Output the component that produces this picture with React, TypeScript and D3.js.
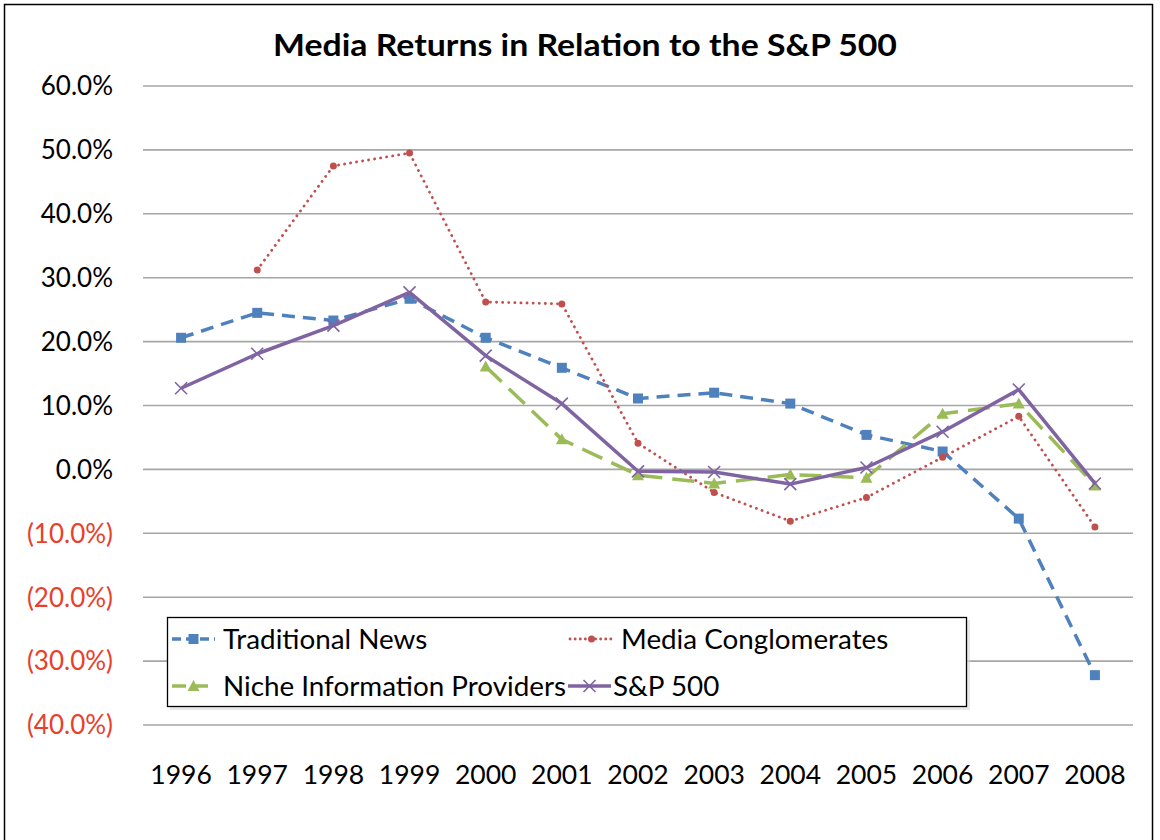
import { useEffect, useRef } from "react";
import * as d3 from "d3";

const years = ["1996", "1997", "1998", "1999", "2000", "2001", "2002", "2003", "2004", "2005", "2006", "2007", "2008"];
const traditionalNews = [20.6, 24.5, 23.3, 26.7, 20.6, 15.9, 11.1, 12.0, 10.3, 5.4, 2.8, -7.7, -32.2];
const mediaConglomerates = [null, 31.2, 47.5, 49.5, 26.2, 25.9, 4.1, -3.6, -8.1, -4.4, 1.9, 8.3, -9.0];
const nicheProviders = [null, null, null, null, 16.1, 4.7, -0.9, -2.2, -0.8, -1.3, 8.7, 10.3, -2.5];
const sp500 = [12.7, 18.1, 22.5, 27.7, 17.8, 10.3, -0.3, -0.4, -2.3, 0.3, 5.9, 12.5, -2.2];
const yTicks = [60, 50, 40, 30, 20, 10, 0, -10, -20, -30, -40];

type Series = {
  name: string;
  values: (number | null)[];
  color: string;
  dash: string;
  legendDash: string;
  width: number;
  marker: "square" | "circle" | "triangle" | "x";
};

const series: Series[] = [
  { name: "Traditional News", values: traditionalNews, color: "#4F81BD", dash: "13,8", legendDash: "9,5", width: 3.5, marker: "square" },
  { name: "Media Conglomerates", values: mediaConglomerates, color: "#C0504D", dash: "0.1,6", legendDash: "0.1,5", width: 2.8, marker: "circle" },
  { name: "Niche Information Providers", values: nicheProviders, color: "#9BBB59", dash: "22,10", legendDash: "14,8", width: 3.5, marker: "triangle" },
  { name: "S&P 500", values: sp500, color: "#8064A2", dash: "", legendDash: "", width: 3.5, marker: "x" },
];

const FONT = "Lato, 'Open Sans', sans-serif";

function drawMarker(g: d3.Selection<SVGGElement, unknown, null, undefined>, s: Series, cx: number, cy: number) {
  if (s.marker === "square") {
    g.append("rect").attr("x", cx - 5).attr("y", cy - 5).attr("width", 10).attr("height", 10).attr("fill", s.color);
  } else if (s.marker === "circle") {
    g.append("circle").attr("cx", cx).attr("cy", cy).attr("r", 3.5).attr("fill", s.color);
  } else if (s.marker === "triangle") {
    g.append("path")
      .attr("d", `M${cx},${cy - 6}L${cx + 6},${cy + 5}L${cx - 6},${cy + 5}Z`)
      .attr("fill", s.color);
  } else {
    g.append("path")
      .attr("d", `M${cx - 6},${cy - 6}L${cx + 6},${cy + 6}M${cx - 6},${cy + 6}L${cx + 6},${cy - 6}`)
      .attr("stroke", s.color)
      .attr("stroke-width", 1.6)
      .attr("fill", "none");
  }
}

export default function App() {
  const svgRef = useRef<SVGSVGElement>(null);

  useEffect(() => {
    if (!svgRef.current) return;
    const svg = d3.select(svgRef.current);
    svg.selectAll("*").remove();

    const x = d3.scaleBand<string>().domain(years).range([143, 1133]).padding(0);
    const y = d3.scaleLinear().domain([-40, 60]).range([725, 86]);
    const cx = (yr: string) => (x(yr) || 0) + x.bandwidth() / 2;

    // outer frame
    svg.append("rect")
      .attr("x", 4.5).attr("y", 4.5).attr("width", 1148).attr("height", 860)
      .attr("fill", "#fff").attr("stroke", "#000").attr("stroke-width", 1.5);

    // title
    svg.append("text")
      .attr("x", 585).attr("y", 56)
      .attr("text-anchor", "middle")
      .attr("font-family", FONT).attr("font-weight", "bold").attr("font-size", 30)
      .attr("textLength", 624).attr("lengthAdjust", "spacingAndGlyphs")
      .text("Media Returns in Relation to the S&P 500");

    // gridlines + y labels
    const grid = svg.append("g");
    yTicks.forEach((t) => {
      grid.append("line")
        .attr("x1", 143).attr("x2", 1133)
        .attr("y1", y(t)).attr("y2", y(t))
        .attr("stroke", "#A6A6A6").attr("stroke-width", 1.6);
      grid.append("text")
        .attr("x", 113).attr("y", y(t)).attr("dy", "0.36em")
        .attr("text-anchor", "end")
        .attr("font-family", FONT).attr("font-size", 26)
        .attr("fill", t < 0 ? "#E8402A" : "#000")
        .text(t < 0 ? `(${Math.abs(t).toFixed(1)}%)` : `${t.toFixed(1)}%`);
    });

    // x labels
    svg.append("g").selectAll("text")
      .data(years)
      .enter()
      .append("text")
      .attr("x", (d) => cx(d))
      .attr("y", 784)
      .attr("text-anchor", "middle")
      .attr("font-family", FONT).attr("font-size", 26.5)
      .text((d) => d);

    // series lines
    series.forEach((s) => {
      const pts = years.map((yr, i) => ({ yr, v: s.values[i] }));
      const line = d3.line<{ yr: string; v: number | null }>()
        .defined((d) => d.v !== null)
        .x((d) => cx(d.yr))
        .y((d) => y(d.v as number));
      svg.append("path")
        .datum(pts)
        .attr("d", line)
        .attr("fill", "none")
        .attr("stroke", s.color)
        .attr("stroke-width", s.width)
        .attr("stroke-dasharray", s.dash || null)
        .attr("stroke-linecap", s.marker === "circle" ? "round" : "butt")
        .attr("stroke-linejoin", "round");
      const mg = svg.append("g");
      pts.forEach((p) => {
        if (p.v !== null) drawMarker(mg, s, cx(p.yr), y(p.v));
      });
    });

    // legend
    const lg = svg.append("g");
    lg.append("rect")
      .attr("x", 170).attr("y", 620).attr("width", 800).attr("height", 90)
      .attr("fill", "#D9D9D9").attr("opacity", 0.6);
    lg.append("rect")
      .attr("x", 167.5).attr("y", 617.5).attr("width", 799).attr("height", 89)
      .attr("fill", "#fff").attr("stroke", "#000").attr("stroke-width", 1.3);
    const legendPos = [
      { sx: 172, tx: 223, ly: 639 },
      { sx: 570, tx: 621, ly: 639 },
      { sx: 172, tx: 223, ly: 686 },
      { sx: 568, tx: 613, ly: 686 },
    ];
    series.forEach((s, i) => {
      const p = legendPos[i];
      lg.append("line")
        .attr("x1", p.sx).attr("x2", p.sx + 43)
        .attr("y1", p.ly).attr("y2", p.ly)
        .attr("stroke", s.color).attr("stroke-width", s.width)
        .attr("stroke-dasharray", s.legendDash || null)
        .attr("stroke-linecap", s.marker === "circle" ? "round" : "butt");
      drawMarker(lg, s, p.sx + 21.5, p.ly);
      lg.append("text")
        .attr("x", p.tx).attr("y", p.ly).attr("dy", "0.36em")
        .attr("font-family", FONT).attr("font-size", 27.8)
        .text(s.name);
    });
  }, []);

  return (
    <div style={{ position: "absolute", left: 0, top: 0, background: "#fff" }}>
      <svg ref={svgRef} width={1160} height={840} style={{ display: "block" }} />
    </div>
  );
}
